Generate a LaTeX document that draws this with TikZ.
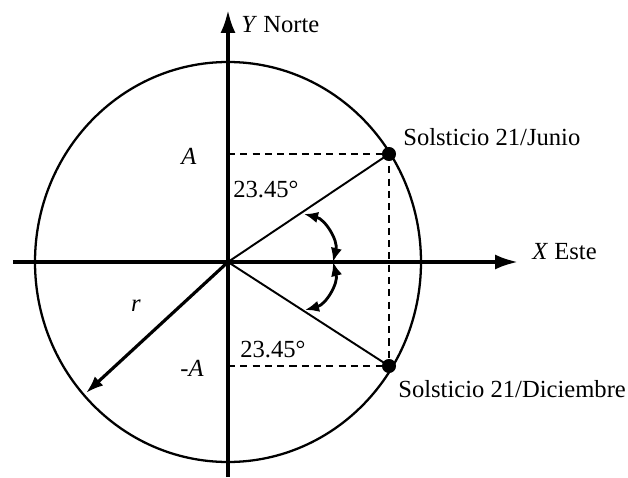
\documentclass[tikz,border=0pt]{standalone}
\usepackage{fontspec}
\setmainfont{Liberation Serif}
\usepackage{tikz}
\usetikzlibrary{arrows.meta}
\tikzset{
  axisline/.style={line width=2pt,-{Latex[length=13pt,width=8.5pt]}},
  orbit/.style={line width=1.3pt},
  radial/.style={line width=1.1pt},
  guide/.style={line width=0.85pt,dash pattern=on 4pt off 3pt},
  radiusarrow/.style={line width=1.8pt,-{Latex[length=10pt,width=7pt]}},
  anglearrow/.style={line width=1.6pt,{Latex[length=8pt,width=6.5pt]}-{Latex[length=8pt,width=6.5pt]}},
  dot/.style={circle,fill=black,inner sep=0pt,minimum size=8pt},
  lbl/.style={inner sep=0pt,font=\fontsize{14}{16}\selectfont}
}
\begin{document}
\begin{tikzpicture}[x=0.02cm,y=0.02cm]
  \useasboundingbox (-228,-215) rectangle (400,262);

  \coordinate (O) at (0,0);
  \coordinate (xmin) at (-215,0);
  \coordinate (xmax) at (290,0);
  \coordinate (ymin) at (0,-215);
  \coordinate (ymax) at (0,252);
  \coordinate (yA) at (0,108);
  \coordinate (ymA) at (0,-104);
  \coordinate (rtip) at (-142,-131);

  % orbita
  \draw[orbit] (O) ellipse [x radius=193, y radius=200];

  % ejes
  \draw[axisline] (xmin) -- (xmax);
  \draw[axisline] (ymin) -- (ymax);

  % solsticios
  \node[dot] (jun) at (161,108) {};
  \node[dot] (dic) at (161,-104) {};

  \draw[radial] (O) -- (jun.center);
  \draw[radial] (O) -- (dic.center);
  \draw[guide] (yA) -- (jun.center);
  \draw[guide] (ymA) -- (dic.center);
  \draw[guide] (jun.center) -- (dic.center);

  \draw[radiusarrow] (O) -- (rtip);

  % angulos
  \coordinate (angup) at (76,48);
  \coordinate (angmid) at (105,0);
  \coordinate (angdn) at (77,-48);
  \draw[anglearrow] (angup) to[bend left=45] (angmid);
  \draw[anglearrow] (angmid) to[bend left=45] (angdn);

  % textos
  \node[lbl,anchor=base west] (ylbl) at (13,229) {\textit{Y} Norte};
  \node[lbl,anchor=base west] (xlbl) at (304,3) {\textit{X} Este};
  \node[lbl,anchor=base] (alb) at (-39,98) {\textit{A}};
  \node[lbl,anchor=base east] (malb) at (-24,-114) {-\textit{A}};
  \node[lbl,anchor=base] (rlbl) at (-92,-49) {\textit{r}};
  \node[lbl,anchor=base west] (angjun) at (5,65) {23.45°};
  \node[lbl,anchor=base west] (angdic) at (12,-95) {23.45°};
  \node[lbl,anchor=base west] (junlbl) at (175,117) {Solsticio 21/Junio};
  \node[lbl,anchor=base west] (diclbl) at (170,-135) {Solsticio 21/Diciembre};
\end{tikzpicture}
\end{document}
